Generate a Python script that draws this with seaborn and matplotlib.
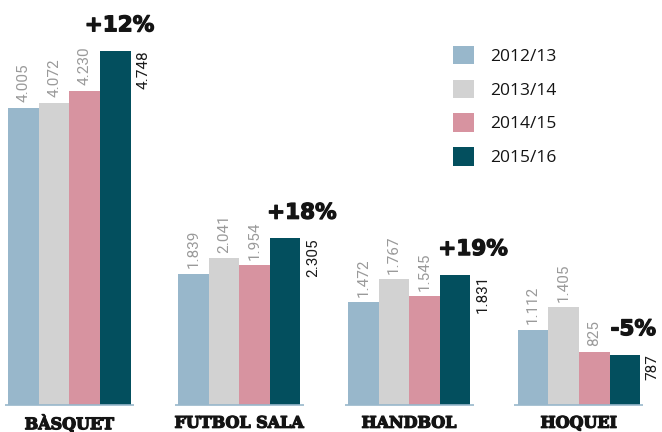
import numpy as np
import pandas as pd
import matplotlib
matplotlib.use('Agg')
import matplotlib.pyplot as plt
import matplotlib.patheffects as pe
from matplotlib.patches import Patch
import seaborn as sns

sns.set_style('white')

sports = ['BÀSQUET', 'FUTBOL SALA', 'HANDBOL', 'HOQUEI']
seasons = ['2012/13', '2013/14', '2014/15', '2015/16']
v_2012 = [4005, 1839, 1472, 1112]
v_2013 = [4072, 2041, 1767, 1405]
v_2014 = [4230, 1954, 1545, 825]
v_2015 = [4748, 2305, 1831, 787]
changes = ['+12%', '+18%', '+19%', '-5%']
colors = ['#98b7cb', '#d2d2d2', '#d793a0', '#034f5e']

df = pd.DataFrame({
    'sport': sports * 4,
    'season': np.repeat(seasons, 4),
    'value': v_2012 + v_2013 + v_2014 + v_2015,
})

heavy = [pe.withStroke(linewidth=0.9, foreground='#141414')]

fig = plt.figure(figsize=(6.62, 4.32), dpi=100)
ax = fig.add_axes([0, 27 / 432, 1, 405 / 432])
sns.barplot(data=df, x='sport', y='value', hue='season', palette=colors,
            width=0.72, saturation=1, linewidth=0, ax=ax, legend=False)

ax.set_xlim(-0.409, 3.489)
ax.set_ylim(130, 5410)
ax.set_yticks([])
ax.set_xlabel(''); ax.set_ylabel('')
for s in ax.spines.values():
    s.set_visible(False)
ax.tick_params(axis='x', length=0, pad=7)
for lab in ax.get_xticklabels():
    lab.set_fontfamily('DejaVu Serif')
    lab.set_fontweight('bold')
    lab.set_fontsize(11.5)
    lab.set_color('#141414')
    lab.set_path_effects(heavy)

# baseline under each group
for i in range(len(sports)):
    ax.hlines(130, i - 0.38, i + 0.38, color='#98b7cb', lw=1.2, clip_on=False)

# value labels
for h, cont in enumerate(ax.containers):
    for i, bar in enumerate(cont):
        xc = bar.get_x() + bar.get_width() / 2
        top = bar.get_height()
        val = f'{int(top):,}'.replace(',', '.')
        if h < 3:
            ax.annotate(val, (xc, top), xytext=(0, 4), textcoords='offset points',
                        rotation=90, ha='center', va='bottom', fontsize=11,
                        color='#9a9a9a', family='Roboto')
        else:
            ax.annotate(val, (bar.get_x() + bar.get_width(), top), xytext=(4, 0),
                        textcoords='offset points', rotation=90, ha='left', va='top',
                        fontsize=11, color='#1a1a1a', family='Roboto')

# percentage change above last bar
nudges = [3, 12, 13, 6]
last = ax.containers[3]
for i, bar in enumerate(last):
    xc = bar.get_x() + bar.get_width() / 2
    ax.annotate(changes[i], (xc, bar.get_height()), xytext=(nudges[i], 14),
                textcoords='offset points', ha='center', va='baseline',
                fontsize=15.5, fontweight='bold', color='#141414', family='DejaVu Sans',
                path_effects=heavy)

handles = [Patch(facecolor=c, edgecolor='none') for c in colors]
fig.legend(handles, seasons, loc='upper left', bbox_to_anchor=(0.66, 0.93),
           frameon=False, handlelength=1.25, handleheight=1.25, labelcolor='#141414',
           handletextpad=0.9, labelspacing=0.85, prop={'family': 'Open Sans', 'size': 12.5})

fig.savefig('out.png', dpi=100)
plt.close()
